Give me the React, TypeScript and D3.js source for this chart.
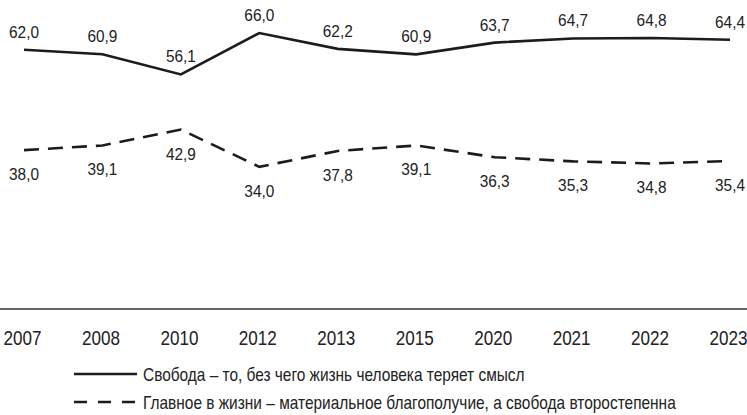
import { useEffect, useRef } from "react";
import * as d3 from "d3";

// chart data
const years = ["2007", "2008", "2010", "2012", "2013", "2015", "2020", "2021", "2022", "2023"];
const freedomMatters = [62.0, 60.9, 56.1, 66.0, 62.2, 60.9, 63.7, 64.7, 64.8, 64.4];
const wealthFirst = [38.0, 39.1, 42.9, 34.0, 37.8, 39.1, 36.3, 35.3, 34.8, 35.4];
const legendLabels = [
    "Свобода – то, без чего жизнь человека теряет смысл",
    "Главное в жизни – материальное благополучие, а свобода второстепенна",
];

const width = 747;
const height = 415;
// no narrow font installed, so text gets squeezed horizontally
const font = "'Liberation Sans', Arial, sans-serif";
const ink = "#1c1c1c";

// place a text at (x, y) and squeeze it to the given width
const squeeze = (el: SVGTextElement, x: number, y: number, w: number) => {
    const natural = el.getComputedTextLength();
    const s = natural > 0 ? w / natural : 1;
    el.setAttribute("transform", `translate(${x},${y}) scale(${s},1)`);
};

const drawChart = (node: SVGSVGElement) => {
    const svg = d3.select(node);
    svg.selectAll("*").remove();

    const x = d3.scalePoint<string>().domain(years).range([24, 730]);
    const y = d3.scaleLinear().domain([0, 66]).range([309, 33]);

    const line = d3.line<number>()
        .x((_, i) => x(years[i]) as number)
        .y(d => y(d));

    const series = [
        { values: freedomMatters, dash: null, labelDy: -12 },
        { values: wealthFirst, dash: "15,9", labelDy: 30 },
    ];

    // zero line
    svg.append("line")
        .attr("x1", 0)
        .attr("x2", width)
        .attr("y1", y(0))
        .attr("y2", y(0))
        .attr("stroke", "#333")
        .attr("stroke-width", 1.3);

    series.forEach(s => {
        svg.append("path")
            .datum(s.values)
            .attr("d", line)
            .attr("fill", "none")
            .attr("stroke", ink)
            .attr("stroke-width", 2.6)
            .attr("stroke-dasharray", s.dash);

        svg.append("g")
            .attr("font-family", font)
            .attr("font-size", 17)
            .attr("fill", "#222")
            .attr("text-anchor", "middle")
            .selectAll("text")
            .data(s.values)
            .join("text")
            .text(d => d.toFixed(1).replace(".", ","))
            .each(function (d, i) {
                squeeze(this as SVGTextElement, x(years[i]) as number, y(d) + s.labelDy, 30);
            });
    });

    // year labels
    svg.append("g")
        .attr("font-family", font)
        .attr("font-size", 21)
        .attr("fill", "#222")
        .attr("text-anchor", "middle")
        .selectAll("text")
        .data(years)
        .join("text")
        .text(d => d)
        .each(function (d) {
            squeeze(this as SVGTextElement, (x(d) as number) - 1.5, 345, 38);
        });

    // legend
    const legendY = [374, 402];
    const legendWidth = [382, 533];
    const legend = svg.append("g");
    series.forEach((s, i) => {
        legend.append("line")
            .attr("x1", 74)
            .attr("x2", 137)
            .attr("y1", legendY[i])
            .attr("y2", legendY[i])
            .attr("stroke", ink)
            .attr("stroke-width", 2.6)
            .attr("stroke-dasharray", s.dash ? "13,11" : null);
        const t = legend.append("text")
            .attr("font-family", font)
            .attr("font-size", 18)
            .attr("fill", "#222")
            .text(legendLabels[i]);
        squeeze(t.node() as SVGTextElement, 143, legendY[i] + 7, legendWidth[i]);
    });
};

export default function App() {
    const ref = useRef<SVGSVGElement>(null);

    useEffect(() => {
        if (ref.current) drawChart(ref.current);
    }, []);

    return (
        <svg
            ref={ref}
            width={width}
            height={height}
            style={{ position: "absolute", left: 0, top: 0, background: "#fff" }}
        />
    );
}
